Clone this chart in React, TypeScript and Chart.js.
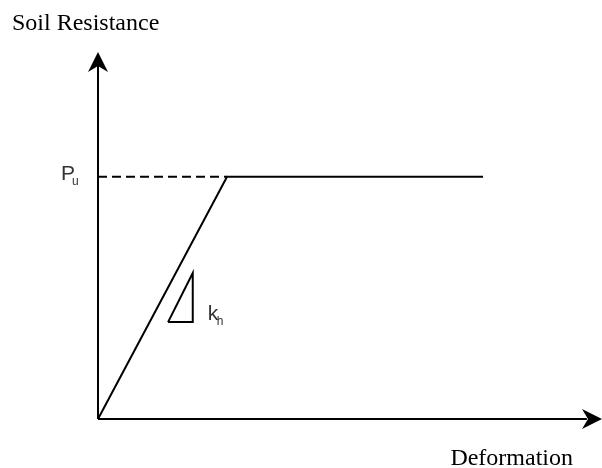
import { useEffect, useRef } from "react";
import { Chart, registerables } from "chart.js";

Chart.register(...registerables);

// Data (arbitrary units, axes run 0..axisMax)
const axisMax = 100;
const curveDeformation = [0, 25.6, 76.4];
const curveResistance = [0, 66, 66];
const dashDeformation = [0, 25.6];
const dashResistance = [66, 66];
const triangleDeformation = [13.9, 18.8, 18.8, 13.9];
const triangleResistance = [26.4, 26.4, 39.8, 26.4];
const ultimateResistance = 66;
const slopeLabelAt = [21.8, 26.4];

const yTitle = "Soil Resistance";
const xTitle = "Deformation";

const toPoints = (xs: number[], ys: number[]) => xs.map((v, i) => ({ x: v, y: ys[i] }));

function drawArrow(ctx: CanvasRenderingContext2D, tx: number, ty: number, dx: number, dy: number) {
  const L = 20, W = 10, N = 6;
  const px = -dy, py = dx;
  ctx.beginPath();
  ctx.moveTo(tx, ty);
  ctx.lineTo(tx - dx * L + px * W, ty - dy * L + py * W);
  ctx.lineTo(tx - dx * (L - N), ty - dy * (L - N));
  ctx.lineTo(tx - dx * L - px * W, ty - dy * L - py * W);
  ctx.closePath();
  ctx.fillStyle = "#000";
  ctx.fill();
}

const annotations = {
  id: "annotations",
  afterDatasetsDraw(chart: any) {
    const { ctx } = chart;
    const xs = chart.scales.x, ys = chart.scales.y;
    const ox = xs.getPixelForValue(0);
    const oy = ys.getPixelForValue(0);
    const tx = xs.getPixelForValue(axisMax);
    const ty = ys.getPixelForValue(axisMax);
    ctx.save();
    drawArrow(ctx, ox, ty, 0, -1);
    drawArrow(ctx, tx, oy, 1, 0);

    ctx.fillStyle = "#000";
    ctx.font = '24px "Liberation Serif", "Times New Roman", serif';
    ctx.textBaseline = "alphabetic";
    ctx.textAlign = "left";
    ctx.fillText(yTitle, ox - 86, ty - 22);
    ctx.textAlign = "right";
    ctx.fillText(xTitle, tx - 29, oy + 46);

    const pu = ys.getPixelForValue(ultimateResistance);
    ctx.fillStyle = "#333";
    ctx.textAlign = "left";
    ctx.font = '21px "Liberation Sans", Arial, sans-serif';
    ctx.fillText("P", ox - 37, pu + 3);
    ctx.font = '12px "Liberation Sans", Arial, sans-serif';
    ctx.fillText("u", ox - 26, pu + 8);

    const kx = xs.getPixelForValue(slopeLabelAt[0]);
    const ky = ys.getPixelForValue(slopeLabelAt[1]);
    ctx.font = '21px "Liberation Sans", Arial, sans-serif';
    ctx.fillText("k", kx, ky - 2);
    ctx.font = '12px "Liberation Sans", Arial, sans-serif';
    ctx.fillText("h", kx + 9, ky + 3);
    ctx.restore();
  },
};

export default function App() {
  const ref = useRef<HTMLCanvasElement>(null);
  useEffect(() => {
    document.body.style.margin = "0";
    const line = (data: any[], extra: any = {}) => ({
      data,
      borderColor: "#000",
      borderWidth: 2,
      pointRadius: 0,
      showLine: true,
      fill: false,
      tension: 0,
      clip: false,
      ...extra,
    });
    const chart = new Chart(ref.current!, {
      type: "scatter",
      data: {
        datasets: [
          line(toPoints([0, 0], [0, axisMax - 3])),
          line(toPoints([0, axisMax - 3], [0, 0])),
          line(toPoints(dashDeformation, dashResistance), { borderDash: [9, 5] }),
          line(toPoints(curveDeformation, curveResistance)),
          line(toPoints(triangleDeformation, triangleResistance)),
        ],
      },
      options: {
        animation: false,
        responsive: false,
        events: [],
        layout: { padding: { left: 98, right: 0, top: 52, bottom: 49 } },
        plugins: { legend: { display: false }, tooltip: { enabled: false }, title: { display: false } },
        scales: {
          x: { type: "linear", min: 0, max: axisMax, display: false },
          y: { type: "linear", min: 0, max: axisMax, display: false },
        },
      },
      plugins: [annotations],
    });
    return () => chart.destroy();
  }, []);
  return (
    <canvas
      ref={ref}
      width={602}
      height={468}
      style={{ position: "fixed", left: 0, top: 0, width: 602, height: 468 }}
    />
  );
}
